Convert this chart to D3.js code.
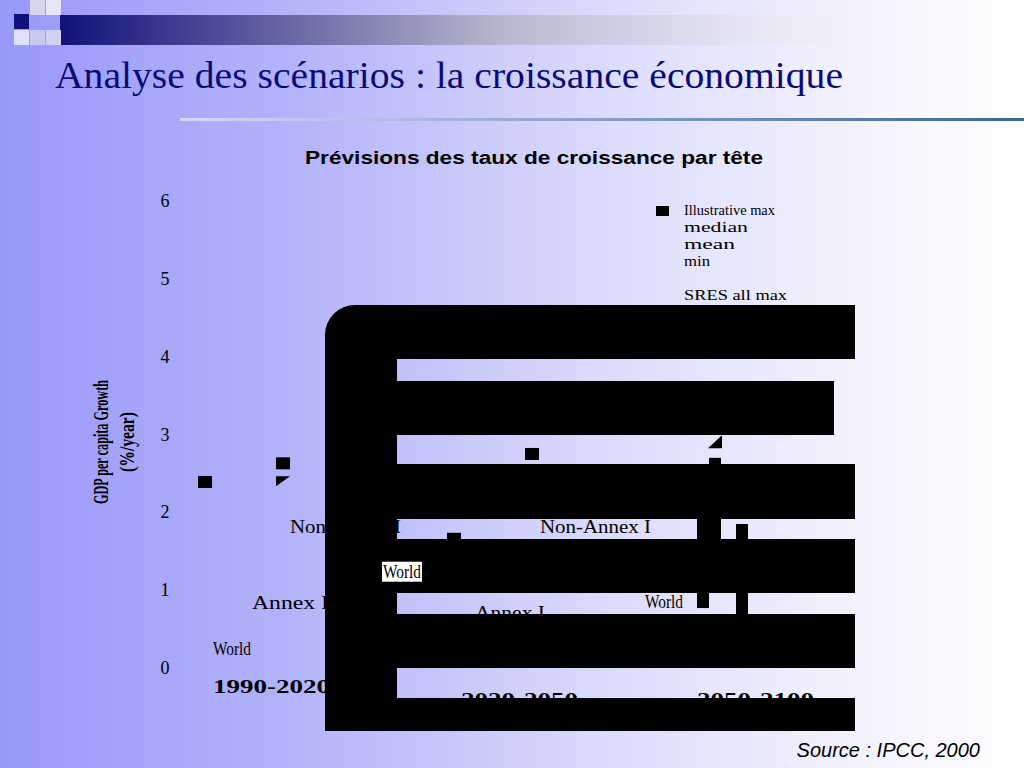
<!DOCTYPE html>
<html>
<head>
<meta charset="utf-8">
<script src="https://cdn.jsdelivr.net/npm/d3@7"></script>
<style>
  body { margin: 0; background: #fff; }
  svg { display: block; }
</style>
</head>
<body>
<div id="slide"></div>
<script>
// axis ticks
const yTicks = [0, 1, 2, 3, 4, 5, 6];

// periods and their label anchor (x in chart units, y in %/year)
const periods = ["1990-2020", "2020-2050", "2050-2100"];
const periodX = [1.26, 6.22, 10.94];
const periodY = [-0.32, -0.49, -0.49];

// point markers
const markPeriod = ["1990-2020", "1990-2020", "1990-2020", "2020-2050", "2020-2050", "2050-2100"];
const markX = [1.10, 2.66, 2.66, 7.64, 6.08, 11.30];
const markValue = [2.39, 2.63, 2.40, 2.75, 1.66, 2.90];
const markShape = ["square", "square", "triA", "square", "square", "triB"];

// range bars 2050-2100
const rangeX = [11.06, 11.30, 11.84];
const rangeHigh = [2.30, 2.70, 1.85];
const rangeLow = [0.77, 1.39, 0.36];

// region labels
const regionText = ["World", "Annex I", "Non-Annex I", "World", "Annex I", "Non-Annex I", "World"];
const regionX = [1.26, 2.04, 2.80, 4.66, 6.50, 7.80, 9.90];
const regionY = [0.17, 0.76, 1.73, 1.16, 0.63, 1.73, 0.77];
const regionBoxed = [false, false, false, true, false, false, false];

// legend entries
const legendItems = ["Illustrative max", "median", "mean", "min", "SRES all max"];

const W = 1024, H = 768;
const svg = d3.select("#slide").append("svg").attr("width", W).attr("height", H);
const defs = svg.append("defs");

const bg = defs.append("linearGradient").attr("id", "bg")
  .attr("gradientUnits", "userSpaceOnUse")
  .attr("x1", 0).attr("x2", W).attr("y1", 0).attr("y2", 0);
bg.append("stop").attr("offset", 0).attr("stop-color", "#9999f8");
bg.append("stop").attr("offset", 0.3).attr("stop-color", "#b5b5fa");
bg.append("stop").attr("offset", 0.6).attr("stop-color", "#dcdcfb");
bg.append("stop").attr("offset", 0.85).attr("stop-color", "#f4f4fe");
bg.append("stop").attr("offset", 1).attr("stop-color", "#ffffff");

const bar = defs.append("linearGradient").attr("id", "bar")
  .attr("x1", 0).attr("x2", 1).attr("y1", 0).attr("y2", 0);
bar.append("stop").attr("offset", 0).attr("stop-color", "#12127a");
bar.append("stop").attr("offset", 0.45).attr("stop-color", "#b4b4cc");
bar.append("stop").attr("offset", 0.9).attr("stop-color", "#ffffff").attr("stop-opacity", 0);

const rule = defs.append("linearGradient").attr("id", "rule")
  .attr("x1", 0).attr("x2", 1).attr("y1", 0).attr("y2", 0);
rule.append("stop").attr("offset", 0).attr("stop-color", "#d8d8f4");
rule.append("stop").attr("offset", 1).attr("stop-color", "#2f6aa3");

svg.append("rect").attr("width", W).attr("height", H).attr("fill", "url(#bg)");

// top-left decoration
svg.append("rect").attr("x", 60).attr("y", 15).attr("width", 964).attr("height", 30).attr("fill", "url(#bar)");
[[14, 14, "#10107e"], [30, 0, "#d6d6ee"], [46, 0, "#e6e6f4"], [30, 30, "#c8c8f0"], [14, 30, "#e0e0f6"], [46, 30, "#d0d0f0"]]
  .forEach(([x, y, c]) => svg.append("rect").attr("x", x).attr("y", y).attr("width", 15).attr("height", 15).attr("fill", c));

svg.append("text").attr("x", 55).attr("y", 88)
  .attr("textLength", 788).attr("lengthAdjust", "spacingAndGlyphs")
  .style("font-family", "'Liberation Serif', serif").style("font-size", "38px").attr("fill", "#0a0a78")
  .text("Analyse des scénarios : la croissance économique");
svg.append("rect").attr("x", 180).attr("y", 118).attr("width", 844).attr("height", 3).attr("fill", "url(#rule)");

svg.append("text").attr("x", 305).attr("y", 164)
  .attr("textLength", 458).attr("lengthAdjust", "spacingAndGlyphs")
  .style("font-family", "'Liberation Sans', Arial, sans-serif").style("font-size", "18px").style("font-weight", "bold")
  .text("Prévisions des taux de croissance par tête");

// scales
const y = d3.scaleLinear().domain([0, 6]).range([668, 201]);
const x = d3.scaleLinear().domain([0, 14]).range([150, 850]);
const serif = "'Liberation Serif', 'Times New Roman', serif";

// y axis labels only
svg.append("g").selectAll("text").data(yTicks).join("text")
  .attr("x", 165).attr("y", d => y(d) + 6).attr("text-anchor", "middle")
  .style("font-family", serif).style("font-size", "18px").text(d => d);

const yTitle = svg.append("g").attr("transform", "translate(0,442) rotate(-90)")
  .style("font-family", serif).style("font-weight", "bold").style("font-size", "21px");
yTitle.append("text").attr("x", 0).attr("y", 108).attr("text-anchor", "middle")
  .attr("textLength", 124).attr("lengthAdjust", "spacingAndGlyphs").text("GDP per capita Growth");
yTitle.append("text").attr("x", 0).attr("y", 134).attr("text-anchor", "middle")
  .attr("textLength", 60).attr("lengthAdjust", "spacingAndGlyphs").text("(%/year)");

// black overlay with see-through bands
const ov = svg.append("g");
ov.append("path").attr("d", "M325,335 A30,30 0 0 1 355,305 H855 V731 H325 Z").attr("fill", "#000");
[[397, 359, 458, 22], [834, 381, 21, 54], [397, 435, 458, 29], [397, 519, 458, 20], [397, 593, 458, 21], [397, 668, 458, 30]]
  .forEach(([bx, by, bw, bh]) => ov.append("rect").attr("x", bx).attr("y", by).attr("width", bw).attr("height", bh).attr("fill", "url(#bg)"));

// range bars
svg.append("g").selectAll("rect").data(rangeX).join("rect")
  .attr("x", d => x(d) - 6).attr("width", 12)
  .attr("y", (d, i) => y(rangeHigh[i]))
  .attr("height", (d, i) => y(rangeLow[i]) - y(rangeHigh[i]))
  .attr("fill", "#000");

// markers
const shapes = {
  square: "M-7,-6H7V6H-7Z",
  triA: "M-7,-5H7L-7,5Z",
  triB: "M7,-7V6H-7Z"
};
svg.append("g").selectAll("path").data(markX).join("path")
  .attr("transform", (d, i) => `translate(${x(d)},${y(markValue[i])})`)
  .attr("d", (d, i) => shapes[markShape[i]])
  .attr("fill", "#000");

// region labels
const regionW = { "World": 38, "Annex I": 77, "Non-Annex I": 111 };
regionText.forEach((t, i) => {
  if (regionBoxed[i]) {
    svg.append("rect").attr("x", x(regionX[i]) - 1).attr("y", y(regionY[i]) - 16)
      .attr("width", regionW[t] + 2).attr("height", 20).attr("fill", "#fff");
  }
  svg.append("text").attr("x", x(regionX[i])).attr("y", y(regionY[i]))
    .attr("textLength", i === 4 ? 70 : regionW[t]).attr("lengthAdjust", "spacingAndGlyphs")
    .style("font-family", serif).style("font-size", "19px").text(t);
});

// period labels
svg.append("g").selectAll("text").data(periods).join("text")
  .attr("x", (d, i) => x(periodX[i])).attr("y", (d, i) => y(periodY[i]))
  .attr("textLength", 117).attr("lengthAdjust", "spacingAndGlyphs")
  .style("font-family", serif).style("font-size", "18px").style("font-weight", "bold")
  .text(d => d);

// legend
svg.append("rect").attr("x", 656).attr("y", 206).attr("width", 13).attr("height", 10).attr("fill", "#000");
const legY = [215, 232, 249, 266, 300];
const legW = [91, 64, 51, 26, 103];
svg.append("g").selectAll("text").data(legendItems).join("text")
  .attr("x", 684).attr("y", (d, i) => legY[i])
  .attr("textLength", (d, i) => legW[i]).attr("lengthAdjust", "spacingAndGlyphs")
  .style("font-family", serif).style("font-size", "15px").text(d => d);

svg.append("text").attr("x", 980).attr("y", 757).attr("text-anchor", "end")
  .style("font-family", "'Liberation Sans', Arial, sans-serif").style("font-size", "20px").style("font-style", "italic")
  .text("Source : IPCC, 2000");
</script>
</body>
</html>
